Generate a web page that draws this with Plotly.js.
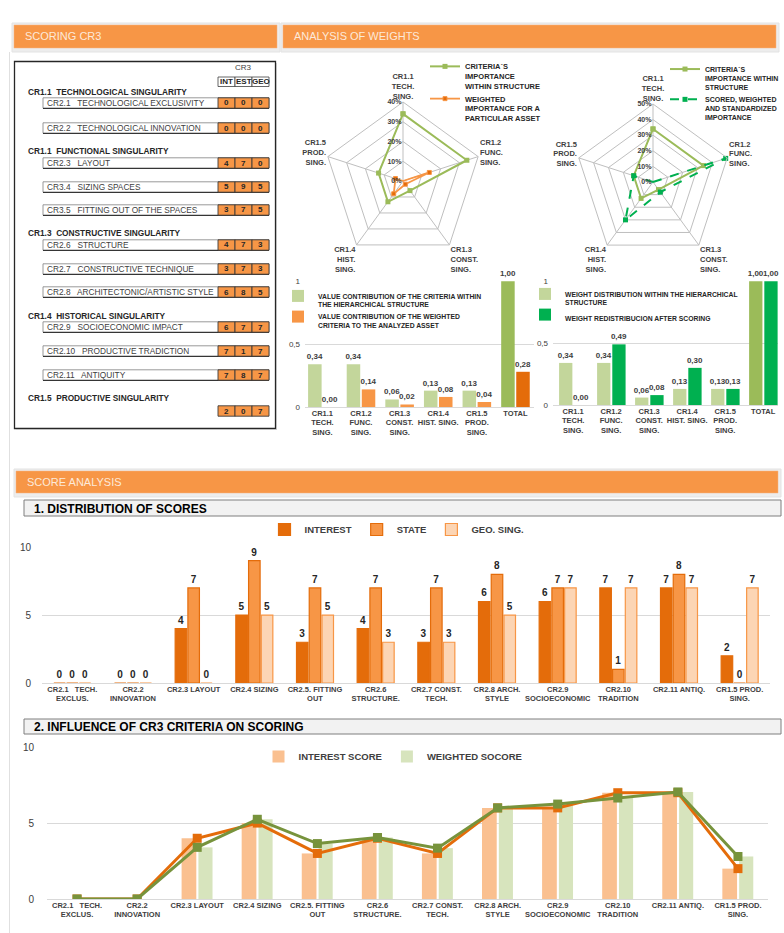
<!DOCTYPE html>
<html><head><meta charset="utf-8">
<script src="https://cdn.plot.ly/plotly-3.0.1.min.js"></script>
<style>html,body{margin:0;padding:0;background:#fff}#chart{width:784px;height:933px}</style>
</head><body><div id="chart"></div>
<script>
// ---------------- DATA ----------------
const radarCategories = ['CR1.1<br>TECH.<br>SING.','CR1.2<br>FUNC.<br>SING.','CR1.3<br>CONST.<br>SING.','CR1.4<br>HIST.<br>SING.','CR1.5<br>PROD.<br>SING.'];
const criteriaImportance = [0.34,0.34,0.06,0.13,0.13];
const weightedImportance = [0.00,0.14,0.02,0.08,0.04];
const standardizedImportance = [0.00,0.49,0.08,0.30,0.13];

const weightCategories = ['CR1.1<br>TECH.<br>SING.','CR1.2<br>FUNC.<br>SING.','CR1.3<br>CONST.<br>SING.','CR1.4<br>HIST. SING.','CR1.5<br>PROD.<br>SING.','TOTAL'];
const hierarchicalContribution = [0.34,0.34,0.06,0.13,0.13,1.00];
const weightedContribution = [0.00,0.14,0.02,0.08,0.04,0.28];
const hierarchicalWeight = [0.34,0.34,0.06,0.13,0.13,1.00];
const redistributedWeight = [0.00,0.49,0.08,0.30,0.13,1.00];

const scoreCategories = ['CR2.1   TECH.<br>EXCLUS.','CR2.2<br>INNOVATION','CR2.3 LAYOUT','CR2.4 SIZING','CR2.5. FITTING<br>OUT','CR2.6<br>STRUCTURE.','CR2.7 CONST.<br>TECH.','CR2.8 ARCH.<br>STYLE','CR2.9<br>SOCIOECONOMIC','CR2.10<br>TRADITION','CR2.11 ANTIQ.','CR1.5 PROD.<br>SING.'];
const interestScores = [0,0,4,5,3,4,3,6,6,7,7,2];
const stateScores    = [0,0,7,9,7,7,7,8,7,1,8,0];
const geoScores      = [0,0,0,5,5,3,3,5,7,7,7,7];
const weightedScores = [0,0,3.4,5.25,3.65,4.05,3.35,6.0,6.25,6.65,7.05,2.8];

const tableHeader = ['INT','EST','GEO'];
const sectionTitles = ['CR1.1  TECHNOLOGICAL SINGULARITY','CR1.1  FUNCTIONAL SINGULARITY','CR1.3  CONSTRUCTIVE SINGULARITY','CR1.4  HISTORICAL SINGULARITY','CR1.5  PRODUCTIVE SINGULARITY'];
const rowLabels = ['CR2.1   TECHNOLOGICAL EXCLUSIVITY','CR2.2   TECHNOLOGICAL INNOVATION','CR2.3   LAYOUT','CR3.4   SIZING SPACES','CR3.5   FITTING OUT OF THE SPACES','CR2.6   STRUCTURE','CR2.7   CONSTRUCTIVE TECHNIQUE','CR2.8   ARCHITECTONIC/ARTISTIC STYLE','CR2.9   SOCIOECONOMIC IMPACT','CR2.10   PRODUCTIVE TRADICTION','CR2.11   ANTIQUITY',''];

// ---------------- LAYOUT HELPERS ----------------
const W = 784, H = 933;
const FONT = '"Liberation Sans Narrow", "Arial Narrow", "Liberation Sans", Arial, sans-serif';
const P = x => x / W, Q = y => 1 - y / H;
const C = {lightGreen:'#c3d69b', green:'#9bbb59', oliveGreen:'#77933c', brightGreen:'#00b050', orange:'#f79646', darkOrange:'#e46c0a', peach:'#fcd5b4', lightPeach:'#fac090', paleGreen:'#d7e4bd', grid:'#d9d9d9', text:'#404040'};
const sectionY = [92,151,233,316,398];
const rowY = [103,128,163,187,210,245,269,292,327,351,375,411];

const shapes = [], annotations = [];
function rect(x0,y0,x1,y1,fill,line,lw){shapes.push({type:'rect',xref:'paper',yref:'paper',x0:P(x0),x1:P(x1),y0:Q(y1),y1:Q(y0),fillcolor:fill,line:{color:line||'rgba(0,0,0,0)',width:lw||0},layer:'below'});}
function seg(x0,y0,x1,y1,color,lw){shapes.push({type:'line',xref:'paper',yref:'paper',x0:P(x0),x1:P(x1),y0:Q(y0),y1:Q(y1),line:{color:color,width:lw},layer:'below'});}
function txt(x,y,t,opt){opt=opt||{};annotations.push({xref:'paper',yref:'paper',x:P(x),y:Q(y),text:t,showarrow:false,xanchor:opt.xa||'left',yanchor:'middle',font:{family:opt.family||FONT,size:opt.size||8,color:opt.color||C.text,weight:opt.weight||'normal'}});}

// page frame
seg(9.5,52,9.5,933,'#e0e0e0',1);
// header bars
function header(x0,y0,x1,y1,label){rect(x0-2,y0-2,x1+3,y1+4,'#ededed','#e3e3e3',1);rect(x0,y0,x1,y1,C.orange,'#f4b183',0.5);txt(x0+9,(y0+y1)/2,label,{size:11,color:'#fde9d9',family:'"Liberation Sans", Arial, sans-serif'});}
header(14,25,277,48,'SCORING CR3');
header(283,25,776,48,'ANALYSIS OF WEIGHTS');
header(16,471,778,493,'SCORE ANALYSIS');
function subheader(y0,y1,label){rect(24,y0,781,y1,'#f2f2f2','#7f7f7f',1);txt(32,(y0+y1)/2+0.5,label,{size:12,color:'#000',weight:'bold'});}
subheader(500,516,'1. DISTRIBUTION OF SCORES');
subheader(719,734,'2. INFLUENCE OF CR3 CRITERIA ON SCORING');

// table
rect(14.5,61.5,275.5,428.5,'#fff','#262626',1.3);
seg(16,429.5,276.5,429.5,'#bfbfbf',1); seg(276.5,63,276.5,429.5,'#bfbfbf',1);
txt(243.5,68,'CR3',{xa:'center',size:8});
const cellX = [218,235,252,269];
tableHeader.forEach((h,i)=>{rect(cellX[i],77,cellX[i+1],86.5,'#fff','#404040',0.8);txt((cellX[i]+cellX[i+1])/2,82,h,{xa:'center',size:8,weight:'bold',color:'#262626'});});
sectionTitles.forEach((s,i)=>txt(26,sectionY[i],s,{size:8.3,weight:'bold',color:'#262626'}));
const tableVals = interestScores.map((v,i)=>[v,stateScores[i],geoScores[i]]);
rowLabels.forEach((lab,i)=>{
  const y=rowY[i];
  if(lab){rect(43,y-5.2,269,y+5.2,'#fff','#7f7f7f',0.8);seg(43,y+5.4,269,y+5.4,'#262626',1);txt(45,y,lab,{size:8.3,color:'#404040'});}
  tableVals[i].forEach((v,j)=>{rect(cellX[j],y-5.2,cellX[j+1],y+5.2,C.orange,'#3a3a3a',0.9);txt((cellX[j]+cellX[j+1])/2,y,String(v),{xa:'center',size:8,weight:'bold',color:'#262626'});});
});

// ---------------- TRACES ----------------
const closeLoop = a => a.concat([a[0]]);
const legFont = {family:FONT,size:7.5,weight:'bold',color:'#262626'};
const legFont2 = {family:FONT,size:7,weight:'bold',color:'#262626'};
const barLegFont = {family:FONT,size:6.8,weight:'bold',color:'#262626'};
const traces = [];
traces.push({type:'scatterpolar',subplot:'polar',legend:'legend',r:closeLoop(criteriaImportance),theta:closeLoop(radarCategories),mode:'lines+markers',line:{color:C.green,width:2},marker:{symbol:'square',size:5,color:C.green},name:'CRITERIA´S<br>IMPORTANCE<br>WITHIN STRUCTURE'});
traces.push({type:'scatterpolar',subplot:'polar',legend:'legend',r:closeLoop(weightedImportance),theta:closeLoop(radarCategories),mode:'lines+markers',line:{color:C.orange,width:1.8},marker:{symbol:'square',size:4,color:C.darkOrange,line:{color:C.orange,width:1}},name:'WEIGHTED<br>IMPORTANCE FOR A<br>PARTICULAR ASSET'});
traces.push({type:'scatterpolar',subplot:'polar2',legend:'legend2',r:closeLoop(criteriaImportance),theta:closeLoop(radarCategories),mode:'lines+markers',line:{color:C.green,width:2},marker:{symbol:'square',size:5,color:C.green},name:'CRITERIA´S<br>IMPORTANCE WITHIN<br>STRUCTURE'});
traces.push({type:'scatterpolar',subplot:'polar2',legend:'legend2',r:closeLoop(standardizedImportance),theta:closeLoop(radarCategories),mode:'lines+markers',line:{color:C.brightGreen,width:2,dash:'dash'},marker:{symbol:'square',size:5,color:C.brightGreen},name:'SCORED, WEIGHTED<br>AND STANDARDIZED<br>IMPORTANCE'});

const valFont = {family:FONT,size:8,weight:'bold',color:'#404040'};
function wbar(xa,ya,y,colors,offset,name,leg){return {type:'bar',xaxis:xa,yaxis:ya,x:weightCategories,y:y,offset:offset,width:0.35,marker:{color:colors},texttemplate:'%{y:.2f}',textposition:'outside',constraintext:'none',cliponaxis:false,textfont:valFont,name:name,legend:leg};}
traces.push(wbar('x','y',hierarchicalContribution,weightCategories.map(c=>c==='TOTAL'?C.green:C.lightGreen),-0.37,'VALUE CONTRIBUTION OF THE CRITERIA WITHIN<br>THE HIERARCHICAL STRUCTURE','legend3'));
traces.push(wbar('x','y',weightedContribution,weightCategories.map(c=>c==='TOTAL'?C.darkOrange:C.orange),0.02,'VALUE CONTRIBUTION OF THE WEIGHTED<br>CRITERIA TO THE ANALYZED ASSET','legend3'));
traces.push(wbar('x2','y2',hierarchicalWeight,weightCategories.map(c=>c==='TOTAL'?C.green:C.lightGreen),-0.37,'WEIGHT DISTRIBUTION WITHIN THE HIERARCHICAL<br>STRUCTURE','legend4'));
traces.push(wbar('x2','y2',redistributedWeight,weightCategories.map(()=>C.brightGreen),0.03,'WEIGHT REDISTRIBUCION AFTER SCORING','legend4'));

const scoreFont = {family:FONT,size:10,weight:'bold',color:'#262626'};
function sbar(y,fill,line,offset,name){return {type:'bar',xaxis:'x3',yaxis:'y3',x:scoreCategories,y:y,offset:offset,width:0.19,marker:{color:fill,line:{color:line,width:1.2}},texttemplate:'%{y}',textposition:'outside',constraintext:'none',cliponaxis:false,textfont:scoreFont,name:name,legend:'legend5'};}
traces.push(sbar(interestScores,C.darkOrange,C.darkOrange,-0.305,'INTEREST'));
traces.push(sbar(stateScores,C.orange,C.darkOrange,-0.095,'STATE'));
traces.push(sbar(geoScores,C.peach,C.orange,0.115,'GEO. SING.'));

traces.push({type:'bar',xaxis:'x4',yaxis:'y4',x:scoreCategories,y:interestScores,offset:-0.26,width:0.245,marker:{color:C.lightPeach},name:'INTEREST SCORE',legend:'legend6'});
traces.push({type:'bar',xaxis:'x4',yaxis:'y4',x:scoreCategories,y:weightedScores,offset:0.02,width:0.235,marker:{color:C.paleGreen},name:'WEIGHTED SOCORE',legend:'legend6'});
traces.push({type:'scatter',xaxis:'x4',yaxis:'y4',x:scoreCategories,y:interestScores,mode:'lines+markers',line:{color:C.darkOrange,width:3},marker:{symbol:'square',size:9,color:C.darkOrange},showlegend:false,name:'INTEREST'});
traces.push({type:'scatter',xaxis:'x4',yaxis:'y4',x:scoreCategories,y:weightedScores,mode:'lines+markers',line:{color:C.oliveGreen,width:3},marker:{symbol:'square',size:9,color:C.oliveGreen},showlegend:false,name:'WEIGHTED'});

// ---------------- AXES ----------------
const angular = {rotation:90,direction:'clockwise',linecolor:'#bfbfbf',gridcolor:'#bfbfbf',ticks:'',tickfont:{family:FONT,size:7.5,weight:'bold',color:'#404040'}};
function radial(max){const tv=[];for(let v=0;v<=max+1e-9;v+=0.1)tv.push(+v.toFixed(1));return {range:[0,max],tickvals:tv,tickformat:'.0%',angle:90,tickangle:90,side:'counterclockwise',showline:false,gridcolor:'#bfbfbf',ticks:'',tickfont:{family:FONT,size:7,weight:'bold',color:'#404040'}};}
const catX = (dom,range,anchor)=>({domain:dom,anchor:anchor,type:'category',range:range,showgrid:false,showline:false,zeroline:false,ticks:'',tickangle:0,tickfont:{family:FONT,size:7.5,weight:'bold',color:'#404040'},fixedrange:true});
const valY = (dom,range,tv,anchor,size,standoff)=>({domain:dom,anchor:anchor,range:range,tickvals:tv,showgrid:true,gridcolor:C.grid,zeroline:true,zerolinecolor:C.grid,showline:false,ticks:'',ticklabelstandoff:standoff,tickfont:{family:FONT,size:size,color:'#404040'},fixedrange:true});

const layout = {
  width:W,height:H,margin:{l:0,r:0,t:0,b:0,autoexpand:false},paper_bgcolor:'#fff',plot_bgcolor:'rgba(0,0,0,0)',
  separators:',.',barmode:'overlay',font:{family:FONT,size:8,color:C.text},showlegend:true,
  polar:{domain:{x:[P(324),P(482)],y:[Q(260),Q(102)]},gridshape:'linear',bgcolor:'#fff',angularaxis:angular,radialaxis:radial(0.4)},
  polar2:{domain:{x:[P(575),P(731)],y:[Q(260),Q(104)]},gridshape:'linear',bgcolor:'#fff',angularaxis:angular,radialaxis:radial(0.5)},
  xaxis:catX([P(305),P(534)],[-0.45,5.48],'y'),
  yaxis:valY([Q(407),Q(281)],[0,1.002],[0,0.5,1],'x',8,4),
  xaxis2:catX([P(553),P(778)],[-0.53,5.39],'y2'),
  yaxis2:valY([Q(405),Q(281)],[0,1.002],[0,0.5,1],'x2',8,4),
  xaxis3:catX([P(42),P(770)],[-0.5,11.5],'y3'),
  yaxis3:valY([Q(683),Q(547)],[0,10.01],[0,5,10],'x3',10,10),
  xaxis4:catX([P(47),P(768)],[-0.5,11.5],'y4'),
  yaxis4:valY([Q(899),Q(747)],[0,10.01],[0,5,10],'x4',10,12),
  legend:{x:P(425),y:Q(55),xanchor:'left',yanchor:'top',valign:'top',font:legFont,bgcolor:'rgba(0,0,0,0)',tracegroupgap:0},
  legend2:{x:P(784),y:Q(58),xanchor:'right',yanchor:'top',valign:'top',font:legFont2,bgcolor:'rgba(0,0,0,0)',tracegroupgap:0},
  legend3:{x:P(278),y:Q(285),xanchor:'left',yanchor:'top',valign:'top',font:barLegFont,bgcolor:'rgba(0,0,0,0)',tracegroupgap:0},
  legend4:{x:P(525),y:Q(283),xanchor:'left',yanchor:'top',valign:'top',font:barLegFont,bgcolor:'rgba(0,0,0,0)',tracegroupgap:0},
  legend5:{orientation:'h',x:P(397),y:Q(515),xanchor:'center',yanchor:'top',font:{family:FONT,size:9.5,weight:'bold',color:'#404040'},bgcolor:'rgba(0,0,0,0)'},
  legend6:{orientation:'h',x:P(393),y:Q(742),xanchor:'center',yanchor:'top',font:{family:FONT,size:9.5,weight:'bold',color:'#404040'},bgcolor:'rgba(0,0,0,0)'},
  shapes:shapes,annotations:annotations
};
Plotly.newPlot('chart',traces,layout,{staticPlot:true,displayModeBar:false});
</script></body></html>
